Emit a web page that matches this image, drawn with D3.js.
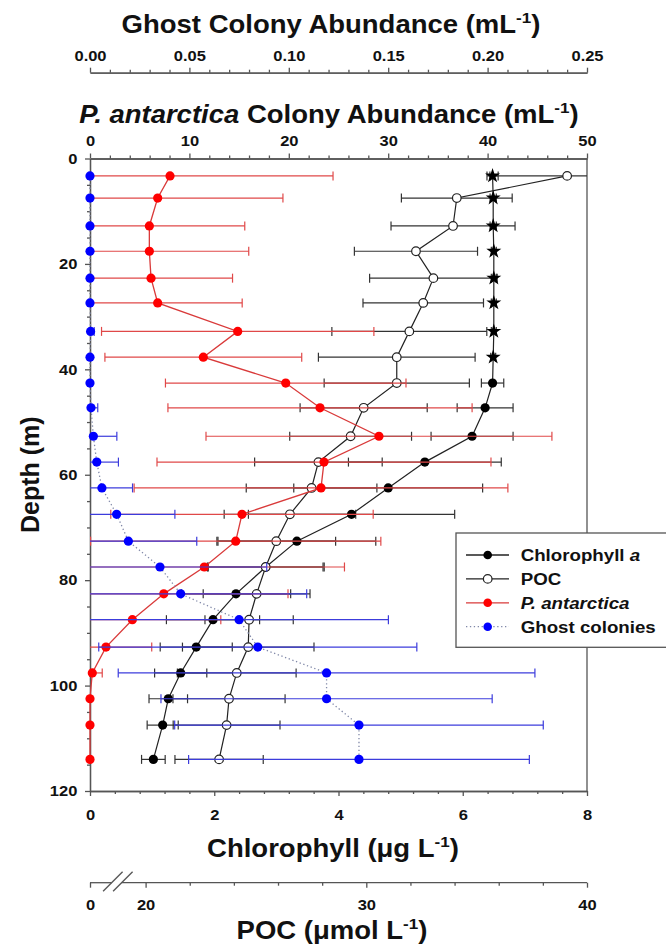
<!DOCTYPE html>
<html lang="en">
<head>
  <meta charset="UTF-8">
  <title>Depth profiles: Chlorophyll, POC, P. antarctica and ghost colonies</title>
  <script src="https://d3js.org/d3.v7.min.js"></script>
  <style>
    body { margin: 0; background: #fff; }
    svg { display: block; font-family: "Liberation Sans", Arial, Helvetica, sans-serif; }
    .axis path, .axis line { stroke: #555; stroke-width: 1.3; }
    .axis text { font-family: "Liberation Sans", Arial, sans-serif; font-size: 15px; font-weight: bold; fill: #111; }
  </style>
</head>
<body>
  <div id="chart"></div>
  <script>
    // sampling depths (m)
    const depth = [3.3, 7.5, 12.8, 17.6, 22.7, 27.4, 32.8, 37.7, 42.6, 47.3, 52.7, 57.6,
                   62.5, 67.5, 72.6, 77.5, 82.6, 87.5, 92.7, 97.6, 102.5, 107.5, 114.0];

    // chlorophyll a (ug/L); first 8 points drawn as stars
    const chl    = [6.48, 6.49, 6.49, 6.5, 6.5, 6.5, 6.5, 6.49, 6.48, 6.36, 6.15, 5.39,
                    4.80, 4.21, 3.33, 2.83, 2.35, 1.98, 1.71, 1.46, 1.26, 1.17, 1.02];
    const chlErr = [0.09, 0.05, 0.05, 0.04, 0.04, 0.04, 0.04, 0.04, 0.18, 0.45, 0.66, 1.23,
                    1.52, 1.66, 1.27, 0.94, 0.88, 0.75, 0.58, 0.42, 0.31, 0.25, 0.19];
    const chlStars = 8;

    // POC (umol/L)
    const poc    = [39.1, 34.1, 33.93, 32.25, 33.04, 32.58, 31.95, 31.38, 31.38, 29.88, 29.29, 27.83,
                    27.52, 26.54, 25.92, 25.44, 25.03, 24.69, 24.65, 24.13, 23.78, 23.67, 23.33];
    const pocErr = [3.5, 2.51, 2.81, 2.79, 2.89, 2.73, 3.51, 3.55, 3.29, 2.88, 2.76, 2.89,
                    2.96, 2.98, 2.69, 2.6, 2.42, 2.0, 2.98, 2.69, 2.54, 2.42, 2.0];

    // P. antarctica colonies (mL-1)
    const pant    = [8.05, 6.81, 5.97, 5.97, 6.14, 6.81, 14.86, 11.4, 19.69, 23.14, 29.07, 23.54,
                     23.24, 15.29, 14.66, 11.5, 7.42, 4.26, 1.61, 0.23, 0, 0, 0];
    const pantErr = [16.4, 12.6, 9.6, 10.0, 8.2, 8.5, 13.7, 9.9, 12.1, 15.3, 17.4, 16.8,
                     18.8, 13.2, 14.6, 14.1, 12.5, 8.9, 4.6, 1.0, 0, 0, 0];

    // ghost colonies (mL-1)
    const ghost    = [0, 0, 0, 0, 0, 0, 0.0003, 0, 0, 0.0005, 0.0017, 0.0034,
                      0.006, 0.0134, 0.0193, 0.0352, 0.0456, 0.075, 0.0844, 0.119, 0.119, 0.1353, 0.1353];
    const ghostErr = [0, 0, 0, 0, 0, 0, 0.0018, 0, 0, 0.0034, 0.0118, 0.0109,
                      0.0154, 0.0293, 0.0344, 0.0537, 0.0634, 0.0751, 0.080, 0.1048, 0.0833, 0.0927, 0.0857];

    const chlTicks   = [0, 2, 4, 6, 8];
    const pocTicks   = [20, 30, 40];
    const pantTicks  = [0, 10, 20, 30, 40, 50];
    const ghostTicks = [0, 0.05, 0.10, 0.15, 0.20, 0.25];
    const depthTicks = [0, 20, 40, 60, 80, 100, 120];

    const width = 666, height = 947;
    const plotLeft = 90, plotRight = 587, plotTop = 158.5, plotBottom = 791;
    const ghostAxisY = 72.7, pocAxisY = 882.7;
    const sx = 1.1; // glyphs in the reference are a bit wide

    const svg = d3.select("#chart").append("svg")
      .attr("width", width)
      .attr("height", height);

    const y      = d3.scaleLinear().domain([0, 120]).range([plotTop, plotBottom]);
    const xChl   = d3.scaleLinear().domain([0, 8]).range([plotLeft, plotRight]);
    const xPant  = d3.scaleLinear().domain([0, 50]).range([plotLeft, plotRight]);
    const xGhost = d3.scaleLinear().domain([0, 0.25]).range([plotLeft, plotRight]);
    const xPoc   = d3.scaleLinear().domain([20, 40]).range([145.6, plotRight]); // broken axis

    function stretch(sel) {
      sel.selectAll("text").attr("transform", `scale(${sx},1)`);
    }

    function minorRange(a, b, step, majors) {
      return d3.range(a, b + step / 2, step).filter(v => !majors.some(m => Math.abs(m - v) < step / 10));
    }

    // ---- axes ----
    // depth (left)
    svg.append("g").attr("class", "axis").attr("transform", `translate(${plotLeft},0)`)
      .call(d3.axisLeft(y).tickValues(depthTicks).tickSize(5).tickSizeOuter(0).tickPadding(6.5))
      .call(stretch);
    svg.append("g").attr("class", "axis").attr("transform", `translate(${plotLeft},0)`)
      .call(d3.axisLeft(y).tickValues(minorRange(0, 120, 5, depthTicks)).tickSize(3).tickSizeOuter(0).tickFormat(""));

    // P. antarctica (top of frame)
    svg.append("g").attr("class", "axis").attr("transform", `translate(0,${plotTop})`)
      .call(d3.axisTop(xPant).tickValues(pantTicks).tickSize(5).tickSizeOuter(0).tickPadding(8))
      .call(stretch);
    svg.append("g").attr("class", "axis").attr("transform", `translate(0,${plotTop})`)
      .call(d3.axisTop(xPant).tickValues(minorRange(0, 50, 2, pantTicks)).tickSize(3).tickSizeOuter(0).tickFormat(""));

    // ghost colonies (detached top axis)
    svg.append("g").attr("class", "axis").attr("transform", `translate(0,${ghostAxisY})`)
      .call(d3.axisTop(xGhost).tickValues(ghostTicks).tickSize(5).tickSizeOuter(0).tickPadding(7).tickFormat(d3.format(".2f")))
      .call(stretch);
    svg.append("g").attr("class", "axis").attr("transform", `translate(0,${ghostAxisY})`)
      .call(d3.axisTop(xGhost).tickValues(minorRange(0, 0.25, 0.01, ghostTicks)).tickSize(3).tickSizeOuter(0).tickFormat(""));

    // chlorophyll (bottom of frame)
    svg.append("g").attr("class", "axis").attr("transform", `translate(0,${plotBottom})`)
      .call(d3.axisBottom(xChl).tickValues(chlTicks).tickSize(5).tickSizeOuter(0).tickPadding(13))
      .call(stretch);
    svg.append("g").attr("class", "axis").attr("transform", `translate(0,${plotBottom})`)
      .call(d3.axisBottom(xChl).tickValues(minorRange(0, 8, 0.4, chlTicks)).tickSize(3).tickSizeOuter(0).tickFormat(""));

    // right frame line
    svg.append("line")
      .attr("x1", plotRight).attr("x2", plotRight).attr("y1", plotTop).attr("y2", plotBottom)
      .attr("stroke", "#555").attr("stroke-width", 1.3);

    // POC (detached bottom axis with a break)
    const pocAxis = svg.append("g").attr("class", "axis").attr("transform", `translate(0,${pocAxisY})`);
    pocAxis.call(d3.axisBottom(xPoc).tickValues(pocTicks).tickSize(5).tickSizeOuter(0).tickPadding(12))
      .call(stretch);
    pocAxis.append("g")
      .call(d3.axisBottom(xPoc).tickValues(minorRange(20, 40, 2, pocTicks)).tickSize(3).tickSizeOuter(0).tickFormat(""));
    pocAxis.selectAll(".domain").remove();
    // zero label at the start of the broken axis
    const pocZero = d3.scaleLinear().domain([0, 1]).range([plotLeft, plotLeft + 1]);
    pocAxis.append("g")
      .call(d3.axisBottom(pocZero).tickValues([0]).tickSize(5).tickSizeOuter(0).tickPadding(12).tickFormat(d3.format("d")))
      .call(g => g.select(".domain").remove())
      .call(stretch);
    const brk1 = 111.6, brk2 = 121.6;
    pocAxis.append("line").attr("x1", plotLeft).attr("x2", brk1).attr("stroke", "#555").attr("stroke-width", 1.3);
    pocAxis.append("line").attr("x1", brk2).attr("x2", plotRight).attr("stroke", "#555").attr("stroke-width", 1.3);
    [brk1, brk2].forEach(bx => {
      pocAxis.append("line")
        .attr("x1", bx - 8.5).attr("y1", 8.5)
        .attr("x2", bx + 11).attr("y2", -11)
        .attr("stroke", "#555").attr("stroke-width", 1.1);
    });

    // ---- axis titles ----
    function richText(x, yy, segs, size, rotate) {
      const g = svg.append("g")
        .attr("transform", rotate ? `translate(${x},${yy}) rotate(-90)` : `translate(${x},${yy}) scale(${sx},1)`);
      const t = g.append("text")
        .attr("text-anchor", "middle")
        .attr("font-size", size)
        .attr("font-weight", "bold")
        .attr("fill", "#111");
      let raised = false;
      segs.forEach(s => {
        const ts = t.append("tspan").text(s.t);
        if (s.i) ts.attr("font-style", "italic");
        if (s.sup) {
          ts.attr("font-size", size * 0.62).attr("dy", -size * 0.4);
          raised = true;
        } else if (raised) {
          ts.attr("dy", size * 0.4);
          raised = false;
        }
      });
      return g;
    }

    richText(331, 33.3, [{ t: "Ghost Colony Abundance (mL" }, { t: "-1", sup: true }, { t: ")" }], 25);
    richText(329, 123.3, [{ t: "P. antarctica", i: true }, { t: " Colony Abundance (mL" }, { t: "-1", sup: true }, { t: ")" }], 25);
    richText(333, 857.3, [{ t: "Chlorophyll (\u03bcg L" }, { t: "-1", sup: true }, { t: ")" }], 25);
    richText(332, 939.3, [{ t: "POC (\u03bcmol L" }, { t: "-1", sup: true }, { t: ")" }], 25);
    richText(39, (plotTop + plotBottom) / 2, [{ t: "Depth (m)" }], 25, true);

    // ---- data ----
    function errorBars(vals, errs, x, color, cap) {
      const [d0, d1] = x === xPoc ? [x.invert(plotLeft), x.domain()[1]] : x.domain();
      const g = svg.append("g").attr("stroke", color).attr("stroke-width", 1.2);
      vals.forEach((v, i) => {
        if (!errs[i]) return;
        const lo = v - errs[i], hi = v + errs[i];
        const yy = y(depth[i]);
        g.append("line")
          .attr("x1", x(Math.max(lo, d0))).attr("x2", x(Math.min(hi, d1)))
          .attr("y1", yy).attr("y2", yy);
        if (lo >= d0) g.append("line").attr("x1", x(lo)).attr("x2", x(lo)).attr("y1", yy - cap).attr("y2", yy + cap);
        if (hi <= d1) g.append("line").attr("x1", x(hi)).attr("x2", x(hi)).attr("y1", yy - cap).attr("y2", yy + cap);
      });
    }

    function profile(vals, x) {
      return d3.line().x(d => x(d)).y((d, i) => y(depth[i]))(vals);
    }

    // chlorophyll and POC (black)
    errorBars(chl, chlErr, xChl, "#333", 4.5);
    errorBars(poc, pocErr, xPoc, "#333", 4.5);
    svg.append("path").attr("d", profile(chl, xChl)).attr("fill", "none").attr("stroke", "#222").attr("stroke-width", 1.2);
    svg.append("path").attr("d", profile(poc, xPoc)).attr("fill", "none").attr("stroke", "#222").attr("stroke-width", 1.2);

    svg.append("g").selectAll("path")
      .data(chl.slice(0, chlStars))
      .join("path")
      .attr("d", d3.symbol(d3.symbolStar, 70))
      .attr("transform", (d, i) => `translate(${xChl(d)},${y(depth[i])})`)
      .attr("fill", "#000");
    svg.append("g").selectAll("circle")
      .data(chl.slice(chlStars))
      .join("circle")
      .attr("cx", d => xChl(d))
      .attr("cy", (d, i) => y(depth[i + chlStars]))
      .attr("r", 4.6)
      .attr("fill", "#000");
    svg.append("g").selectAll("circle")
      .data(poc)
      .join("circle")
      .attr("cx", d => xPoc(d))
      .attr("cy", (d, i) => y(depth[i]))
      .attr("r", 4.3)
      .attr("fill", "#fff")
      .attr("stroke", "#222")
      .attr("stroke-width", 1.2);

    // P. antarctica (red)
    errorBars(pant, pantErr, xPant, "#e04848", 4.5);
    svg.append("path").attr("d", profile(pant, xPant)).attr("fill", "none").attr("stroke", "#d93a3a").attr("stroke-width", 1.3);
    svg.append("g").selectAll("circle")
      .data(pant)
      .join("circle")
      .attr("cx", d => xPant(d))
      .attr("cy", (d, i) => y(depth[i]))
      .attr("r", 4.6)
      .attr("fill", "#f00");

    // ghost colonies (blue)
    errorBars(ghost, ghostErr, xGhost, "#3c3cdc", 4.5);
    svg.append("path").attr("d", profile(ghost, xGhost)).attr("fill", "none")
      .attr("stroke", "#8088a8").attr("stroke-width", 1.3).attr("stroke-dasharray", "1.3,2.6");
    svg.append("g").selectAll("circle")
      .data(ghost)
      .join("circle")
      .attr("cx", d => xGhost(d))
      .attr("cy", (d, i) => y(depth[i]))
      .attr("r", 4.6)
      .attr("fill", "#00f");

    // ---- legend ----
    const legendItems = [
      { segs: [{ t: "Chlorophyll " }, { t: "a", i: true }], line: "#222", fill: "#000", stroke: "none", dash: null },
      { segs: [{ t: "POC" }], line: "#222", fill: "#fff", stroke: "#222", dash: null },
      { segs: [{ t: "P. antarctica", i: true }], line: "#d93a3a", fill: "#f00", stroke: "none", dash: null },
      { segs: [{ t: "Ghost colonies" }], line: "#8088a8", fill: "#00f", stroke: "none", dash: "1.3,2.6" }
    ];
    const legend = svg.append("g").attr("transform", "translate(456,533)");
    legend.append("rect")
      .attr("width", 216).attr("height", 114.3)
      .attr("fill", "#fff").attr("stroke", "#555").attr("stroke-width", 1.3);
    legendItems.forEach((d, i) => {
      const ly = 22 + i * 23.9;
      legend.append("line")
        .attr("x1", 10).attr("x2", 53).attr("y1", ly).attr("y2", ly)
        .attr("stroke", d.line).attr("stroke-width", 1.3)
        .attr("stroke-dasharray", d.dash);
      legend.append("circle")
        .attr("cx", 31.7).attr("cy", ly).attr("r", 4.3)
        .attr("fill", d.fill).attr("stroke", d.stroke).attr("stroke-width", 1.2);
      const t = legend.append("g").attr("transform", `translate(64.7,${ly + 6}) scale(${sx},1)`)
        .append("text").attr("font-size", 17).attr("font-weight", "bold").attr("fill", "#111");
      d.segs.forEach(s => {
        const ts = t.append("tspan").text(s.t);
        if (s.i) ts.attr("font-style", "italic");
      });
    });
  </script>
</body>
</html>
